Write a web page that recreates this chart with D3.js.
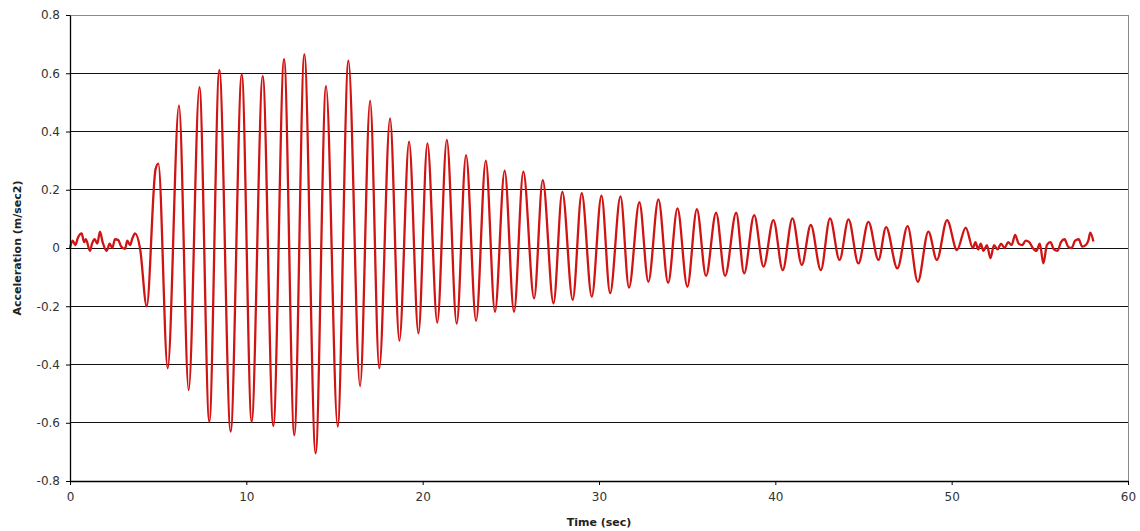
<!DOCTYPE html>
<html>
<head>
<meta charset="utf-8">
<script src="https://cdn.jsdelivr.net/npm/d3@7"></script>
<style>
  html, body { margin: 0; padding: 0; background: #fff; }
  svg { display: block; }
</style>
</head>
<body>
<svg id="chart" width="1140" height="531"></svg>
<script>
// Data
const timeSec = [
  0.0, 0.15, 0.3, 0.45, 0.66, 0.8, 0.9, 1.13, 1.25, 1.4, 1.55, 1.7, 1.85, 2.08, 2.25, 2.4, 2.55, 2.74, 2.9, 3.12, 3.25, 3.4, 3.55, 3.69, 3.97,
  4.35, 4.85, 5.01, 5.54, 6.18, 6.73, 7.34, 7.90, 8.47, 9.11, 9.74, 10.30, 10.93, 11.53,
  12.14, 12.72, 13.29, 13.93, 14.52, 15.18, 15.79, 16.45, 17.02, 17.54, 18.15, 18.68,
  19.23, 19.76, 20.27, 20.83, 21.37, 21.93, 22.46, 23.03, 23.58, 24.10, 24.65, 25.18,
  25.71, 26.32, 26.81, 27.42, 27.92, 28.51, 29.02, 29.59, 30.14, 30.63, 31.22, 31.70,
  32.29, 32.80, 33.37, 33.92, 34.45, 35.01, 35.55, 36.07, 36.64, 37.15, 37.78, 38.23,
  38.80, 39.33, 39.89, 40.42, 40.97, 41.50, 42.01, 42.58, 43.10, 43.64, 44.15, 44.71,
  45.28, 45.85, 46.28, 46.92, 47.50, 48.08, 48.68, 49.16, 49.74, 50.30, 50.80, 51.2,
  51.35, 51.5, 51.65, 51.8, 52.0, 52.2, 52.4, 52.6, 52.8, 53.0, 53.2, 53.4, 53.6, 53.8, 54.0, 54.2, 54.4,
  54.6, 54.8, 55.0, 55.2, 55.4, 55.6, 55.8, 56.0, 56.2, 56.4, 56.6, 56.8, 57.0,
  57.2, 57.4, 57.6, 57.75, 57.86, 58.04
];
const accel = [
  0.0, 0.025, 0.01, 0.035, 0.05, 0.02, 0.03, -0.01, 0.015, 0.03, 0.015, 0.056, 0.02, -0.01, 0.015, 0.0, 0.03, 0.027, 0.005, -0.003, 0.025, 0.01, 0.035, 0.05, 0.0,
  -0.2, 0.27, 0.29, -0.413, 0.49, -0.488, 0.552, -0.596, 0.611, -0.63, 0.596, -0.596, 0.59, -0.611,
  0.648, -0.642, 0.665, -0.705, 0.556, -0.613, 0.643, -0.474, 0.506, -0.413, 0.445, -0.318,
  0.365, -0.293, 0.359, -0.256, 0.371, -0.26, 0.319, -0.25, 0.30, -0.219, 0.266, -0.219,
  0.262, -0.173, 0.233, -0.19, 0.193, -0.178, 0.188, -0.167, 0.18, -0.155, 0.177, -0.136,
  0.157, -0.116, 0.167, -0.12, 0.136, -0.133, 0.133, -0.096, 0.121, -0.096, 0.121, -0.087,
  0.113, -0.064, 0.096, -0.076, 0.102, -0.058, 0.079, -0.076, 0.102, -0.041, 0.098, -0.053,
  0.09, -0.041, 0.072, -0.07, 0.075, -0.116, 0.056, -0.041, 0.096, -0.007, 0.07, 0.0,
  0.02, -0.005, 0.015, -0.01, 0.01, -0.035, 0.01, -0.005, 0.015, 0.0, 0.02, 0.01, 0.045, 0.015, 0.01, 0.025, 0.02,
  0.0, -0.01, 0.015, -0.053, 0.01, 0.02, -0.005, -0.01, 0.02, 0.03, 0.005, 0.0, 0.025,
  0.03, 0.005, 0.01, 0.025, 0.053, 0.022
];
const xTicks = [0, 10, 20, 30, 40, 50, 60];
const yTicks = [-0.8, -0.6, -0.4, -0.2, 0, 0.2, 0.4, 0.6, 0.8];
const xTitle = "Time (sec)";
const yTitle = "Acceleration (m/sec2)";

const svg = d3.select("#chart");
const x = d3.scaleLinear().domain([0, 60]).range([70, 1128]);
const y = d3.scaleLinear().domain([-0.8, 0.8]).range([481, 15]);

const font = "'DejaVu Sans', Verdana, sans-serif";

// gridlines
svg.append("g").selectAll("line").data(yTicks).join("line")
  .attr("x1", x(0)).attr("x2", x(60))
  .attr("y1", d => y(d)).attr("y2", d => y(d))
  .attr("stroke", d => d === 0.8 ? "#8a8a8a" : "#111")
  .attr("stroke-width", 1)
  .attr("shape-rendering", "crispEdges");

// right border
svg.append("line")
  .attr("x1", x(60)).attr("x2", x(60)).attr("y1", y(0.8)).attr("y2", y(-0.8))
  .attr("stroke", "#8a8a8a").attr("stroke-width", 1).attr("shape-rendering", "crispEdges");

// data line
const pts = timeSec.map((t, i) => [t, accel[i]]);
const line = d3.line().x(d => x(d[0])).y(d => y(d[1])).curve(d3.curveMonotoneX);
svg.append("path").datum(pts)
  .attr("d", line)
  .attr("fill", "none")
  .attr("stroke", "#d01414")
  .attr("stroke-width", 2.3)
  .attr("stroke-linejoin", "round");

// axes
const xAxis = d3.axisBottom(x).tickValues(xTicks).tickSize(4).tickSizeOuter(0).tickPadding(7)
  .tickFormat(d => String(d));
const gx = svg.append("g").attr("transform", `translate(0,${y(-0.8)})`).call(xAxis);
gx.select(".domain").attr("stroke", "#000").attr("stroke-width", 1.3);
gx.selectAll(".tick line").attr("stroke", "#000");
gx.selectAll("text").attr("font-family", font).attr("font-size", 12).attr("fill", "#333");

const yAxis = d3.axisLeft(y).tickValues(yTicks).tickSize(4).tickSizeOuter(0).tickPadding(6)
  .tickFormat(d => d === 0 ? "0" : d.toFixed(1));
const gy = svg.append("g").attr("transform", `translate(${x(0)},0)`).call(yAxis);
gy.select(".domain").attr("stroke", "#000").attr("stroke-width", 1.3);
gy.selectAll(".tick line").attr("stroke", "#000");
gy.selectAll("text").attr("font-family", font).attr("font-size", 12).attr("fill", "#333");

// titles
svg.append("text")
  .attr("x", (x(0) + x(60)) / 2).attr("y", 526)
  .attr("text-anchor", "middle")
  .attr("font-family", font).attr("font-size", 11).attr("font-weight", "bold").attr("fill", "#222")
  .text(xTitle);
svg.append("text")
  .attr("transform", `translate(21,${y(0)}) rotate(-90)`)
  .attr("text-anchor", "middle")
  .attr("font-family", font).attr("font-size", 11).attr("font-weight", "bold").attr("fill", "#222")
  .text(yTitle);
</script>
</body>
</html>
